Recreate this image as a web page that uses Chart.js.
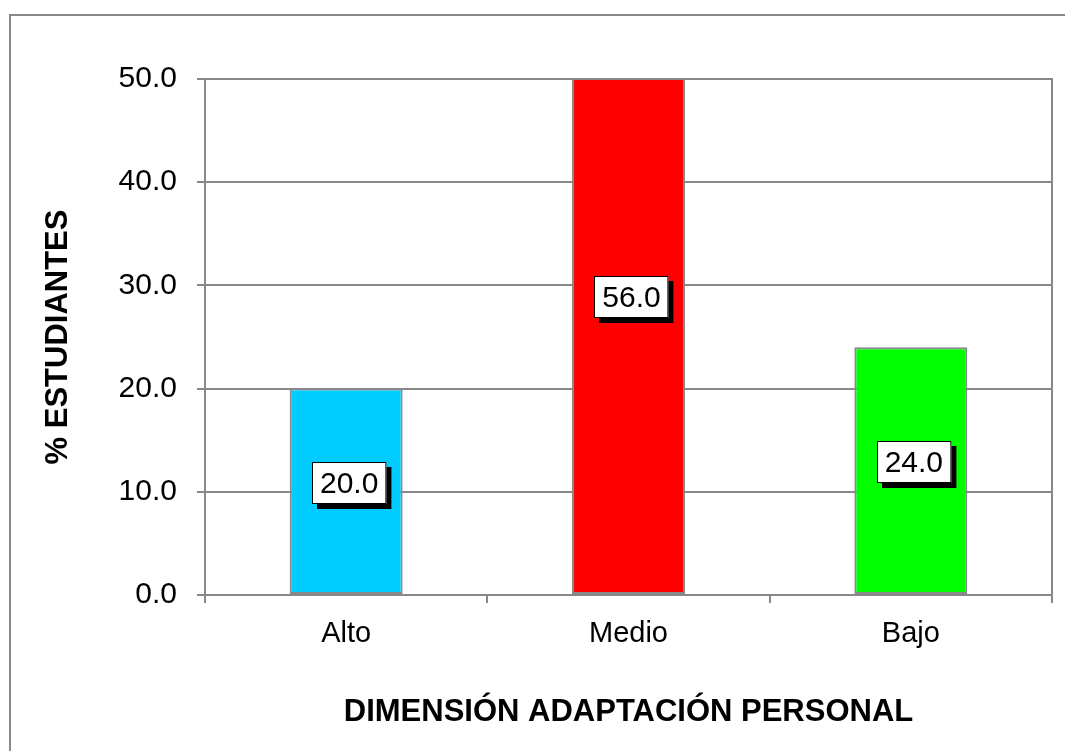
<!DOCTYPE html>
<html>
<head>
<meta charset="utf-8">
<script src="https://cdn.jsdelivr.net/npm/chart.js@4.4.1/dist/chart.umd.min.js"></script>
<style>
  html, body { margin: 0; padding: 0; background: #fff; }
  #chart { display: block; }
</style>
</head>
<body>
<canvas id="chart" width="1065" height="751"></canvas>
<script>
// Chart data
const categories = ["Alto", "Medio", "Bajo"];
const percentages = [20.0, 56.0, 24.0];
const barColors = ["#00CCFF", "#FF0000", "#00FF00"];
const yTicks = [0, 10, 20, 30, 40, 50];

const gray = "#888888";
const fontFamily = "'Liberation Sans', Arial, sans-serif";

// Outer frame of the chart area (cut off at right and bottom like the original)
const frame = {
  id: "frame",
  beforeDraw(chart) {
    const ctx = chart.ctx;
    ctx.save();
    ctx.strokeStyle = gray;
    ctx.lineWidth = 2;
    ctx.beginPath();
    ctx.moveTo(10, chart.height);
    ctx.lineTo(10, 15);
    ctx.lineTo(chart.width, 15);
    ctx.stroke();
    ctx.restore();
  },
  afterDatasetsDraw(chart) {
    // plot border (top + right)
    const a = chart.chartArea;
    const ctx = chart.ctx;
    ctx.save();
    ctx.strokeStyle = gray;
    ctx.lineWidth = 2;
    ctx.beginPath();
    ctx.moveTo(a.left, a.top);
    ctx.lineTo(a.right, a.top);
    ctx.lineTo(a.right, a.bottom);
    ctx.stroke();
    ctx.restore();
  }
};

// Value labels: white box, black border, black drop shadow
const valueLabels = {
  id: "valueLabels",
  afterDatasetsDraw(chart) {
    const ctx = chart.ctx;
    const meta = chart.getDatasetMeta(0);
    const yScale = chart.scales.y;
    ctx.save();
    ctx.font = "30px " + fontFamily;
    ctx.textAlign = "center";
    ctx.textBaseline = "middle";
    meta.data.forEach((bar, i) => {
      const v = percentages[i];
      const text = v.toFixed(1);
      const w = ctx.measureText(text).width + 16;
      const h = 42;
      const cx = bar.x + 3;
      const cy = yScale.getPixelForValue(v / 2) - 9;
      const x = Math.round(cx - w / 2), y = Math.round(cy - h / 2);
      ctx.fillStyle = "#000";
      ctx.fillRect(x + 5, y + 5, w, h);
      ctx.fillStyle = "#fff";
      ctx.fillRect(x, y, w, h);
      ctx.strokeStyle = "#000";
      ctx.lineWidth = 1;
      ctx.strokeRect(x + 0.5, y + 0.5, w - 1, h - 1);
      ctx.fillStyle = "#000";
      ctx.fillText(text, cx, cy + 2);
    });
    ctx.restore();
  }
};

new Chart(document.getElementById("chart"), {
  type: "bar",
  data: {
    labels: categories,
    datasets: [{
      data: percentages,
      backgroundColor: barColors,
      borderColor: gray,
      borderWidth: 2,
      borderSkipped: false,
      barPercentage: 0.4,
      categoryPercentage: 1.0,
      clip: 0
    }]
  },
  options: {
    responsive: false,
    animation: false,
    events: [],
    layout: { padding: { top: 79, right: 13, left: 0, bottom: 0 } },
    plugins: {
      legend: { display: false },
      tooltip: { enabled: false }
    },
    scales: {
      x: {
        afterFit(scale) { scale.height = 156; },
        grid: {
          display: true,
          offset: true,
          drawOnChartArea: false,
          drawTicks: true,
          tickLength: 8,
          color: gray,
          lineWidth: 2
        },
        border: { display: true, color: gray, width: 2 },
        ticks: {
          color: "#000",
          padding: 14,
          font: { family: fontFamily, size: 29 }
        },
        title: {
          display: true,
          text: "DIMENSIÓN ADAPTACIÓN PERSONAL",
          color: "#000",
          font: { family: fontFamily, size: 31, weight: "bold" },
          padding: { top: 0, bottom: 20 }
        }
      },
      y: {
        min: yTicks[0],
        max: yTicks[yTicks.length - 1],
        afterFit(scale) { scale.width = 205; },
        afterBuildTicks(scale) {
          scale.ticks = yTicks.map(v => ({ value: v }));
        },
        grid: {
          color: gray,
          lineWidth: 2,
          drawTicks: true,
          tickLength: 8
        },
        border: { display: true, color: gray, width: 2 },
        ticks: {
          color: "#000",
          padding: 20,
          font: { family: fontFamily, size: 30 },
          callback: v => Number(v).toFixed(1)
        },
        title: {
          display: true,
          text: "% ESTUDIANTES",
          color: "#000",
          font: { family: fontFamily, size: 31, weight: "bold" },
          padding: { top: 40, bottom: 0 }
        }
      }
    }
  },
  plugins: [frame, valueLabels]
});
</script>
</body>
</html>
